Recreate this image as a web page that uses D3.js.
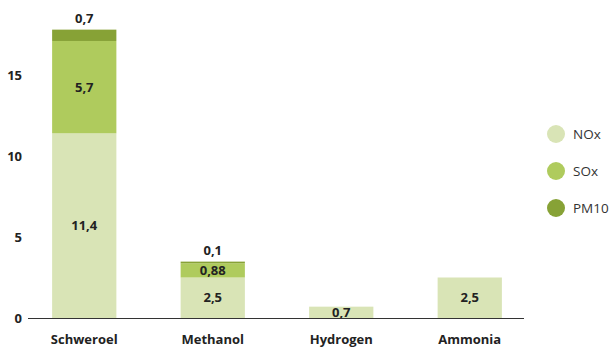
<!DOCTYPE html>
<html>
<head>
<meta charset="utf-8">
<script src="https://cdn.jsdelivr.net/npm/d3@7"></script>
<style>
  body { margin: 0; background: #fff; }
  text { font-family: "Open Sans", Lato, sans-serif; fill: #222; }
</style>
</head>
<body>
<div id="chart"></div>
<script>
// chart data
const categories = ['Schweroel', 'Methanol', 'Hydrogen', 'Ammonia'];
const seriesNames = ['NOx', 'SOx', 'PM10'];
const noxValues = [11.4, 2.5, 0.7, 2.5];
const soxValues = [5.7, 0.88, 0, 0];
const pm10Values = [0.7, 0.1, 0, 0];
const yTicks = [0, 5, 10, 15];
const colors = ['#d9e4b6', '#afcb5d', '#87a236'];

const WIDTH = 612;
const HEIGHT = 347;

const svg = d3.select('#chart')
  .append('svg')
  .attr('width', WIDTH)
  .attr('height', HEIGHT);

// build rows for the stack layout
const seriesValues = { NOx: noxValues, SOx: soxValues, PM10: pm10Values };
const rows = categories.map((c, i) => ({
  category: c,
  index: i,
  NOx: noxValues[i],
  SOx: soxValues[i],
  PM10: pm10Values[i]
}));
const stacked = d3.stack().keys(seriesNames)(rows);

const x = d3.scaleBand()
  .domain(categories)
  .range([20, 534])
  .paddingInner(0.5)
  .paddingOuter(0.25);

const y = d3.scaleLinear()
  .domain([0, 15])
  .range([318, 75]);

// y tick labels
svg.selectAll('.ytick')
  .data(yTicks)
  .enter()
  .append('text')
  .attr('class', 'ytick')
  .attr('x', 22)
  .attr('y', d => y(d) + 4.5)
  .attr('text-anchor', 'end')
  .style('font-weight', 700)
  .style('font-size', '13px')
  .text(d => d);

// bar segments
const layers = svg.selectAll('.layer')
  .data(stacked)
  .enter()
  .append('g')
  .attr('class', 'layer')
  .attr('fill', (d, i) => colors[i]);

layers.selectAll('rect')
  .data(d => d.filter(s => s[1] - s[0] > 0))
  .enter()
  .append('rect')
  .attr('x', d => x(d.data.category))
  .attr('width', x.bandwidth())
  .attr('y', d => y(d[1]))
  .attr('height', d => y(d[0]) - y(d[1]));

// value labels: inside the segment, or above the bar for PM10
const fmt = v => String(v).replace('.', ',');
stacked.forEach((layer, li) => {
  layer.forEach(s => {
    const v = seriesValues[layer.key][s.data.index];
    if (v <= 0) return;
    const cx = x(s.data.category) + x.bandwidth() / 2;
    const ly = li === 2 ? y(s[1]) - 7 : (y(s[0]) + y(s[1])) / 2 + 4.5;
    svg.append('text')
      .attr('x', cx)
      .attr('y', ly)
      .attr('text-anchor', 'middle')
      .style('font-weight', 700)
      .style('font-size', '13px')
      .text(fmt(v));
  });
});

// baseline
svg.append('line')
  .attr('x1', 28)
  .attr('x2', 524)
  .attr('y1', y(0) + 0.5)
  .attr('y2', y(0) + 0.5)
  .attr('stroke', '#333')
  .attr('stroke-width', 1.2);

// category labels
svg.selectAll('.xlabel')
  .data(categories)
  .enter()
  .append('text')
  .attr('class', 'xlabel')
  .attr('x', d => x(d) + x.bandwidth() / 2)
  .attr('y', 344)
  .attr('text-anchor', 'middle')
  .style('font-weight', 700)
  .style('font-size', '13px')
  .text(d => d);

// legend
const legend = svg.selectAll('.legend')
  .data(seriesNames)
  .enter()
  .append('g')
  .attr('class', 'legend')
  .attr('transform', (d, i) => `translate(556, ${134 + i * 37})`);

legend.append('circle')
  .attr('r', 9)
  .attr('fill', (d, i) => colors[i]);

legend.append('text')
  .attr('x', 17)
  .attr('y', 5)
  .style('font-size', '13.5px')
  .style('fill', '#333')
  .text(d => d);
</script>
</body>
</html>
